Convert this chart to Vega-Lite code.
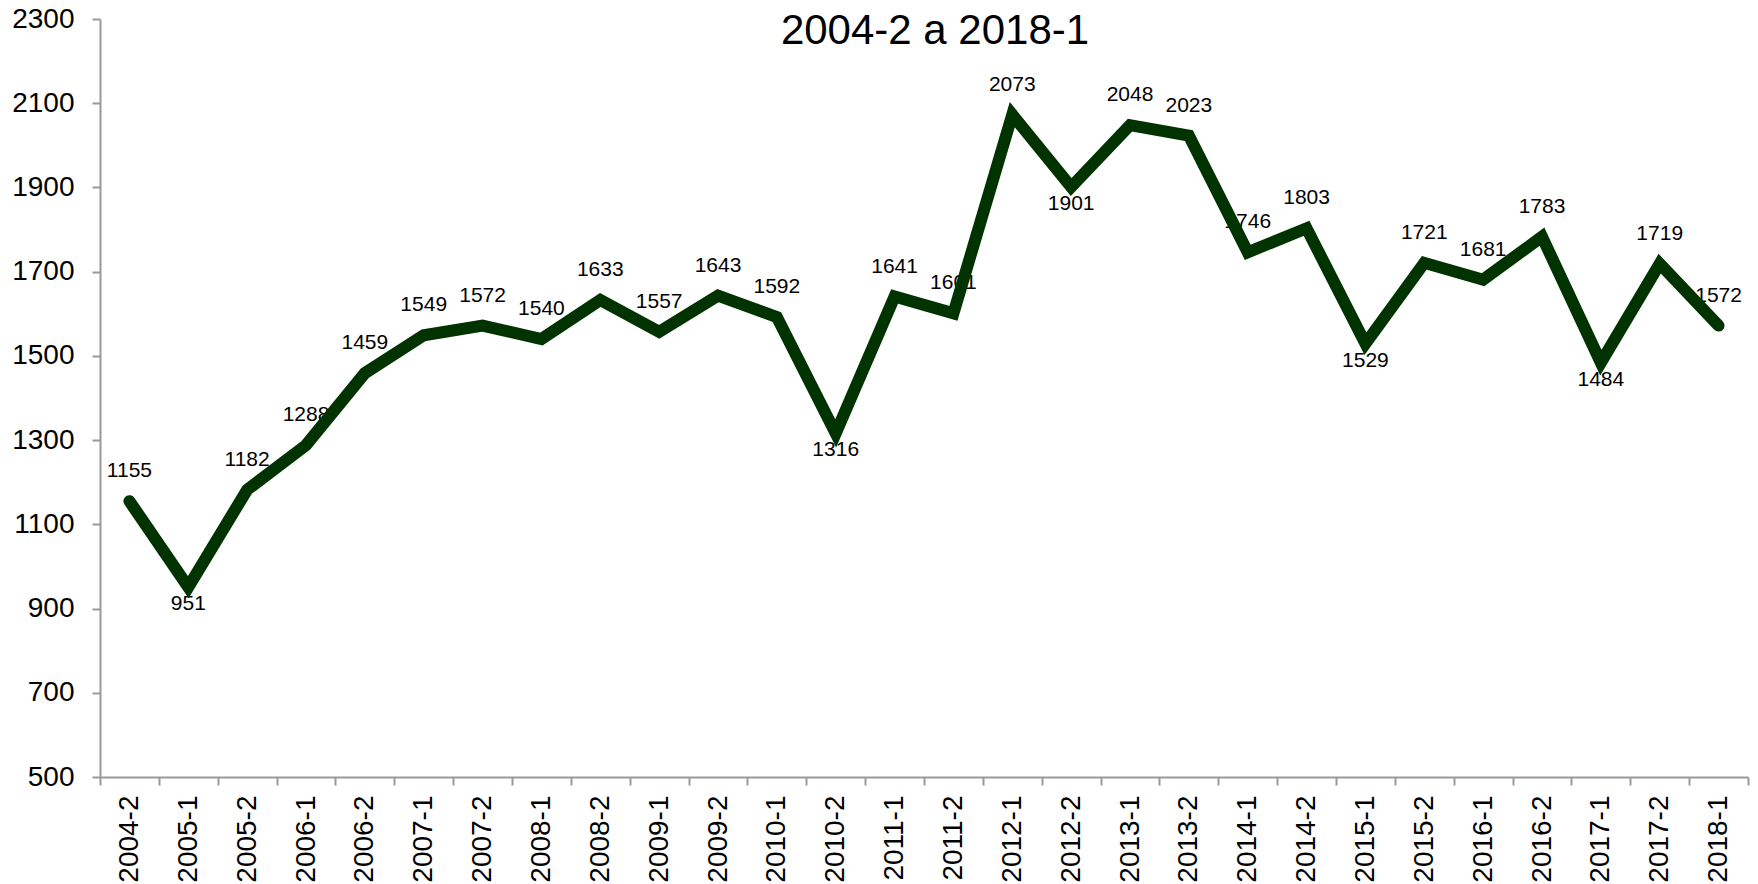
{
  "$schema": "https://vega.github.io/schema/vega-lite/v6.json",
  "width": 1648,
  "height": 758,
  "autosize": {"type": "none"},
  "padding": {"left": 100, "top": 19, "right": 10, "bottom": 107},
  "background": "white",
  "config": {
    "view": {"stroke": null},
    "font": "Liberation Sans"
  },
  "title": {
    "text": "2004-2 a 2018-1",
    "fontSize": 42,
    "fontWeight": "normal",
    "color": "#000000",
    "font": "Liberation Sans",
    "anchor": "middle",
    "baseline": "alphabetic",
    "offset": -81,
    "dx": 11
  },
  "data": {
    "values": [
      {"periodo": "2004-2", "valor": 1155},
      {"periodo": "2005-1", "valor": 951},
      {"periodo": "2005-2", "valor": 1182},
      {"periodo": "2006-1", "valor": 1288},
      {"periodo": "2006-2", "valor": 1459},
      {"periodo": "2007-1", "valor": 1549},
      {"periodo": "2007-2", "valor": 1572},
      {"periodo": "2008-1", "valor": 1540},
      {"periodo": "2008-2", "valor": 1633},
      {"periodo": "2009-1", "valor": 1557},
      {"periodo": "2009-2", "valor": 1643},
      {"periodo": "2010-1", "valor": 1592},
      {"periodo": "2010-2", "valor": 1316},
      {"periodo": "2011-1", "valor": 1641},
      {"periodo": "2011-2", "valor": 1601},
      {"periodo": "2012-1", "valor": 2073},
      {"periodo": "2012-2", "valor": 1901},
      {"periodo": "2013-1", "valor": 2048},
      {"periodo": "2013-2", "valor": 2023},
      {"periodo": "2014-1", "valor": 1746},
      {"periodo": "2014-2", "valor": 1803},
      {"periodo": "2015-1", "valor": 1529},
      {"periodo": "2015-2", "valor": 1721},
      {"periodo": "2016-1", "valor": 1681},
      {"periodo": "2016-2", "valor": 1783},
      {"periodo": "2017-1", "valor": 1484},
      {"periodo": "2017-2", "valor": 1719},
      {"periodo": "2018-1", "valor": 1572}
    ]
  },
  "encoding": {
    "x": {
      "field": "periodo",
      "type": "ordinal",
      "sort": ["2004-2", "2005-1", "2005-2", "2006-1", "2006-2", "2007-1", "2007-2", "2008-1", "2008-2", "2009-1", "2009-2", "2010-1", "2010-2", "2011-1", "2011-2", "2012-1", "2012-2", "2013-1", "2013-2", "2014-1", "2014-2", "2015-1", "2015-2", "2016-1", "2016-2", "2017-1", "2017-2", "2018-1"],
      "scale": {"type": "band", "paddingInner": 0, "paddingOuter": 0},
      "axis": {
        "title": null,
        "labelAngle": -90,
        "labelAlign": "right",
        "labelBaseline": "middle",
        "labelFontSize": 28,
        "labelColor": "#000000",
        "labelFont": "Liberation Sans",
        "labelPadding": 10,
        "tickBand": "extent",
        "tickSize": 8,
        "tickColor": "#999999",
        "tickWidth": 2,
        "domainColor": "#999999",
        "domainWidth": 2,
        "grid": false
      }
    },
    "y": {
      "field": "valor",
      "type": "quantitative",
      "scale": {"domain": [500, 2300], "nice": false, "zero": false},
      "axis": {
        "title": null,
        "format": "d",
        "values": [500, 700, 900, 1100, 1300, 1500, 1700, 1900, 2100, 2300],
        "labelFontSize": 28,
        "labelColor": "#000000",
        "labelFont": "Liberation Sans",
        "labelPadding": 18,
        "tickSize": 8,
        "tickColor": "#999999",
        "tickWidth": 2,
        "domainColor": "#999999",
        "domainWidth": 2,
        "grid": false
      }
    }
  },
  "layer": [
    {
      "transform": [{"filter": {"not": {"field": "periodo", "oneOf": ["2005-1", "2010-2", "2012-2", "2015-1", "2017-1"]}}}],
      "mark": {"type": "text", "fontSize": 21, "color": "#000000", "baseline": "middle", "dy": -30, "font": "Liberation Sans"},
      "encoding": {"text": {"field": "valor", "type": "quantitative", "format": "d"}}
    },
    {
      "transform": [{"filter": {"field": "periodo", "oneOf": ["2005-1", "2010-2", "2012-2", "2015-1", "2017-1"]}}],
      "mark": {"type": "text", "fontSize": 21, "color": "#000000", "baseline": "middle", "dy": 17, "font": "Liberation Sans"},
      "encoding": {"text": {"field": "valor", "type": "quantitative", "format": "d"}}
    },
    {
      "mark": {"type": "line", "color": "#003300", "strokeWidth": 12, "strokeCap": "round", "strokeJoin": "miter"}
    }
  ]
}
